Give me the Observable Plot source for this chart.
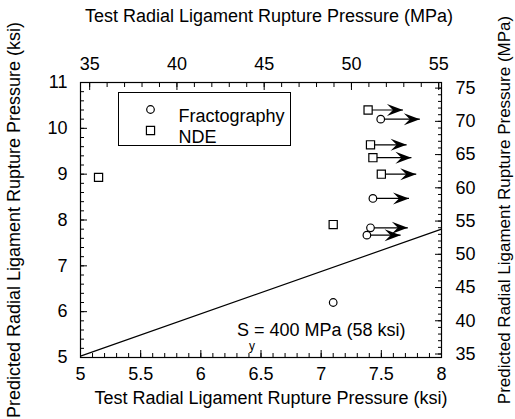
<!DOCTYPE html>
<html>
<head>
<meta charset="utf-8">
<script src="https://cdn.jsdelivr.net/npm/d3@7"></script>
<script src="https://cdn.jsdelivr.net/npm/@observablehq/plot@0.6"></script>
<style>
  html, body { margin: 0; padding: 0; background: #fff; }
</style>
</head>
<body>
<div id="chart"></div>
<script>
// ---- data (ksi) ----
const fracX = [7.10, 7.43, 7.41, 7.38, 7.495];
const fracY = [6.20, 8.47, 7.83, 7.67, 10.20];
const ndeX = [5.15, 7.10, 7.39, 7.41, 7.43, 7.50];
const ndeY = [8.93, 7.90, 10.40, 9.64, 9.36, 9.00];
// run-out arrows (start x, end x, y)
const arrowX1 = [7.43, 7.41, 7.38, 7.495, 7.39, 7.41, 7.43, 7.50];
const arrowX2 = [7.73, 7.72, 7.66, 7.82, 7.68, 7.71, 7.75, 7.79];
const arrowY  = [8.47, 7.83, 7.67, 10.20, 10.40, 9.64, 9.36, 9.00];
// prediction line
const lineX = [5, 8];
const lineY = [5.03, 7.80];
// ticks
const xTicks = [5, 5.5, 6, 6.5, 7, 7.5, 8];
const yTicks = [5, 6, 7, 8, 9, 10, 11];
const mpaTopTicks = [35, 40, 45, 50, 55];
const mpaRightTicks = [35, 40, 45, 50, 55, 60, 65, 70, 75];
const KSI_TO_MPA = 6.895;
// labels
const xTitle = "Test Radial Ligament Rupture Pressure (ksi)";
const xTopTitle = "Test Radial Ligament Rupture Pressure (MPa)";
const yTitle = "Predicted Radial Ligament Rupture Pressure (ksi)";
const yRightTitle = "Predicted Radial Ligament Rupture Pressure (MPa)";
const legendLabels = ["Fractography", "NDE"];
const annText = "S = 400 MPa (58 ksi)";
const annX = [6.30], annY = [5.605];
const subX = [6.40], subY = [5.25];

const frac = fracX.map((x, i) => ({x, y: fracY[i]}));
const nde = ndeX.map((x, i) => ({x, y: ndeY[i]}));
const arrows = arrowX1.map((x1, i) => ({x1, x2: arrowX2[i], y: arrowY[i]}));
const line = lineX.map((x, i) => ({x, y: lineY[i]}));

const xMinor = d3.range(50, 81, 1).map(d => d / 10);
const yMinor = d3.range(25, 56, 1).map(d => d / 5);
const mpaMinorTop = d3.range(35, 56, 1).map(m => m / KSI_TO_MPA);
const mpaMinorRight = d3.range(35, 76, 1).map(m => m / KSI_TO_MPA);

// filled stealth arrowhead with its tip at the origin, pointing right
const arrowHead = {
  draw(ctx) {
    ctx.moveTo(0, 0);
    ctx.lineTo(-16, -6);
    ctx.lineTo(-10, 0);
    ctx.lineTo(-16, 6);
    ctx.closePath();
  }
};

const font = "'Liberation Sans', Arial, sans-serif";
const FS = 18;

const chart = Plot.plot({
  width: 515,
  height: 419,
  marginLeft: 80,
  marginRight: 74,
  marginTop: 82,
  marginBottom: 62,
  style: {fontFamily: font, fontSize: FS + "px", color: "black", background: "white"},
  x: {domain: [5, 8]},
  y: {domain: [5, 11]},
  marks: [
    // axes (ticks point inward)
    Plot.axisX(xTicks, {anchor: "bottom", tickSize: -7, tickPadding: 17, tickFormat: d => String(d), fontSize: FS, label: null}),
    Plot.axisX(xMinor, {anchor: "bottom", tickSize: -4, fill: "none", label: null}),
    Plot.axisX(mpaTopTicks.map(m => m / KSI_TO_MPA), {anchor: "top", tickSize: -7, tickPadding: 20, tickFormat: d => String(Math.round(d * KSI_TO_MPA)), fontSize: FS, label: null}),
    Plot.axisX(mpaMinorTop, {anchor: "top", tickSize: -4, fill: "none", label: null}),
    Plot.axisY(yTicks, {anchor: "left", tickSize: -7, tickPadding: 20, tickFormat: d => String(d), fontSize: FS, label: null}),
    Plot.axisY(yMinor, {anchor: "left", tickSize: -4, fill: "none", label: null}),
    Plot.axisY(mpaRightTicks.map(m => m / KSI_TO_MPA), {anchor: "right", tickSize: -7, tickPadding: 21, tickFormat: d => String(Math.round(d * KSI_TO_MPA)), fontSize: FS, label: null}),
    Plot.axisY(mpaMinorRight, {anchor: "right", tickSize: -4, fill: "none", label: null}),
    Plot.frame({stroke: "black", strokeWidth: 1.2}),
    // axis titles
    Plot.text([xTitle], {frameAnchor: "bottom", textAnchor: "middle", dx: 10, dy: 46, fontSize: FS}),
    Plot.text([xTopTitle], {frameAnchor: "top", textAnchor: "middle", dx: 8, dy: -73, fontSize: FS}),
    Plot.text([yTitle], {frameAnchor: "left", textAnchor: "middle", dx: -66, dy: 0, rotate: -90, fontSize: FS}),
    Plot.text([yRightTitle], {frameAnchor: "right", textAnchor: "middle", dx: 63, dy: -10, rotate: -90, fontSize: 17}),
    // prediction line
    Plot.line(line, {x: "x", y: "y", stroke: "black", strokeWidth: 1.2}),
    // run-out arrows
    Plot.link(arrows, {x1: "x1", x2: "x2", y1: "y", y2: "y", stroke: "black", strokeWidth: 1.2}),
    Plot.dot(arrows, {x: "x2", y: "y", symbol: arrowHead, fill: "black", stroke: "none"}),
    // data points
    Plot.dot(frac, {x: "x", y: "y", r: 3.8, symbol: "circle", fill: "white", stroke: "black", strokeWidth: 1.2}),
    Plot.dot(nde, {x: "x", y: "y", r: 4.6, symbol: "square", fill: "white", stroke: "black", strokeWidth: 1.2}),
    // annotation
    Plot.text([annText], {x: annX, y: annY, textAnchor: "start", fontSize: FS}),
    Plot.text(["y"], {x: subX, y: subY, textAnchor: "start", fontSize: 12}),
    // legend
    Plot.frame({stroke: "black", strokeWidth: 1, fill: "white", insetLeft: 38, insetTop: 10, insetRight: 151, insetBottom: 212}),
    Plot.dot([0], {frameAnchor: "top-left", dx: 70, dy: 27, r: 3.8, symbol: "circle", fill: "white", stroke: "black", strokeWidth: 1.2}),
    Plot.dot([0], {frameAnchor: "top-left", dx: 70, dy: 48, r: 4.6, symbol: "square", fill: "white", stroke: "black", strokeWidth: 1.2}),
    Plot.text([legendLabels[0]], {frameAnchor: "top-left", dx: 98, dy: 27, textAnchor: "start", fontSize: FS}),
    Plot.text([legendLabels[1]], {frameAnchor: "top-left", dx: 98, dy: 48, textAnchor: "start", fontSize: FS})
  ]
});
document.getElementById("chart").appendChild(chart);
</script>
</body>
</html>
